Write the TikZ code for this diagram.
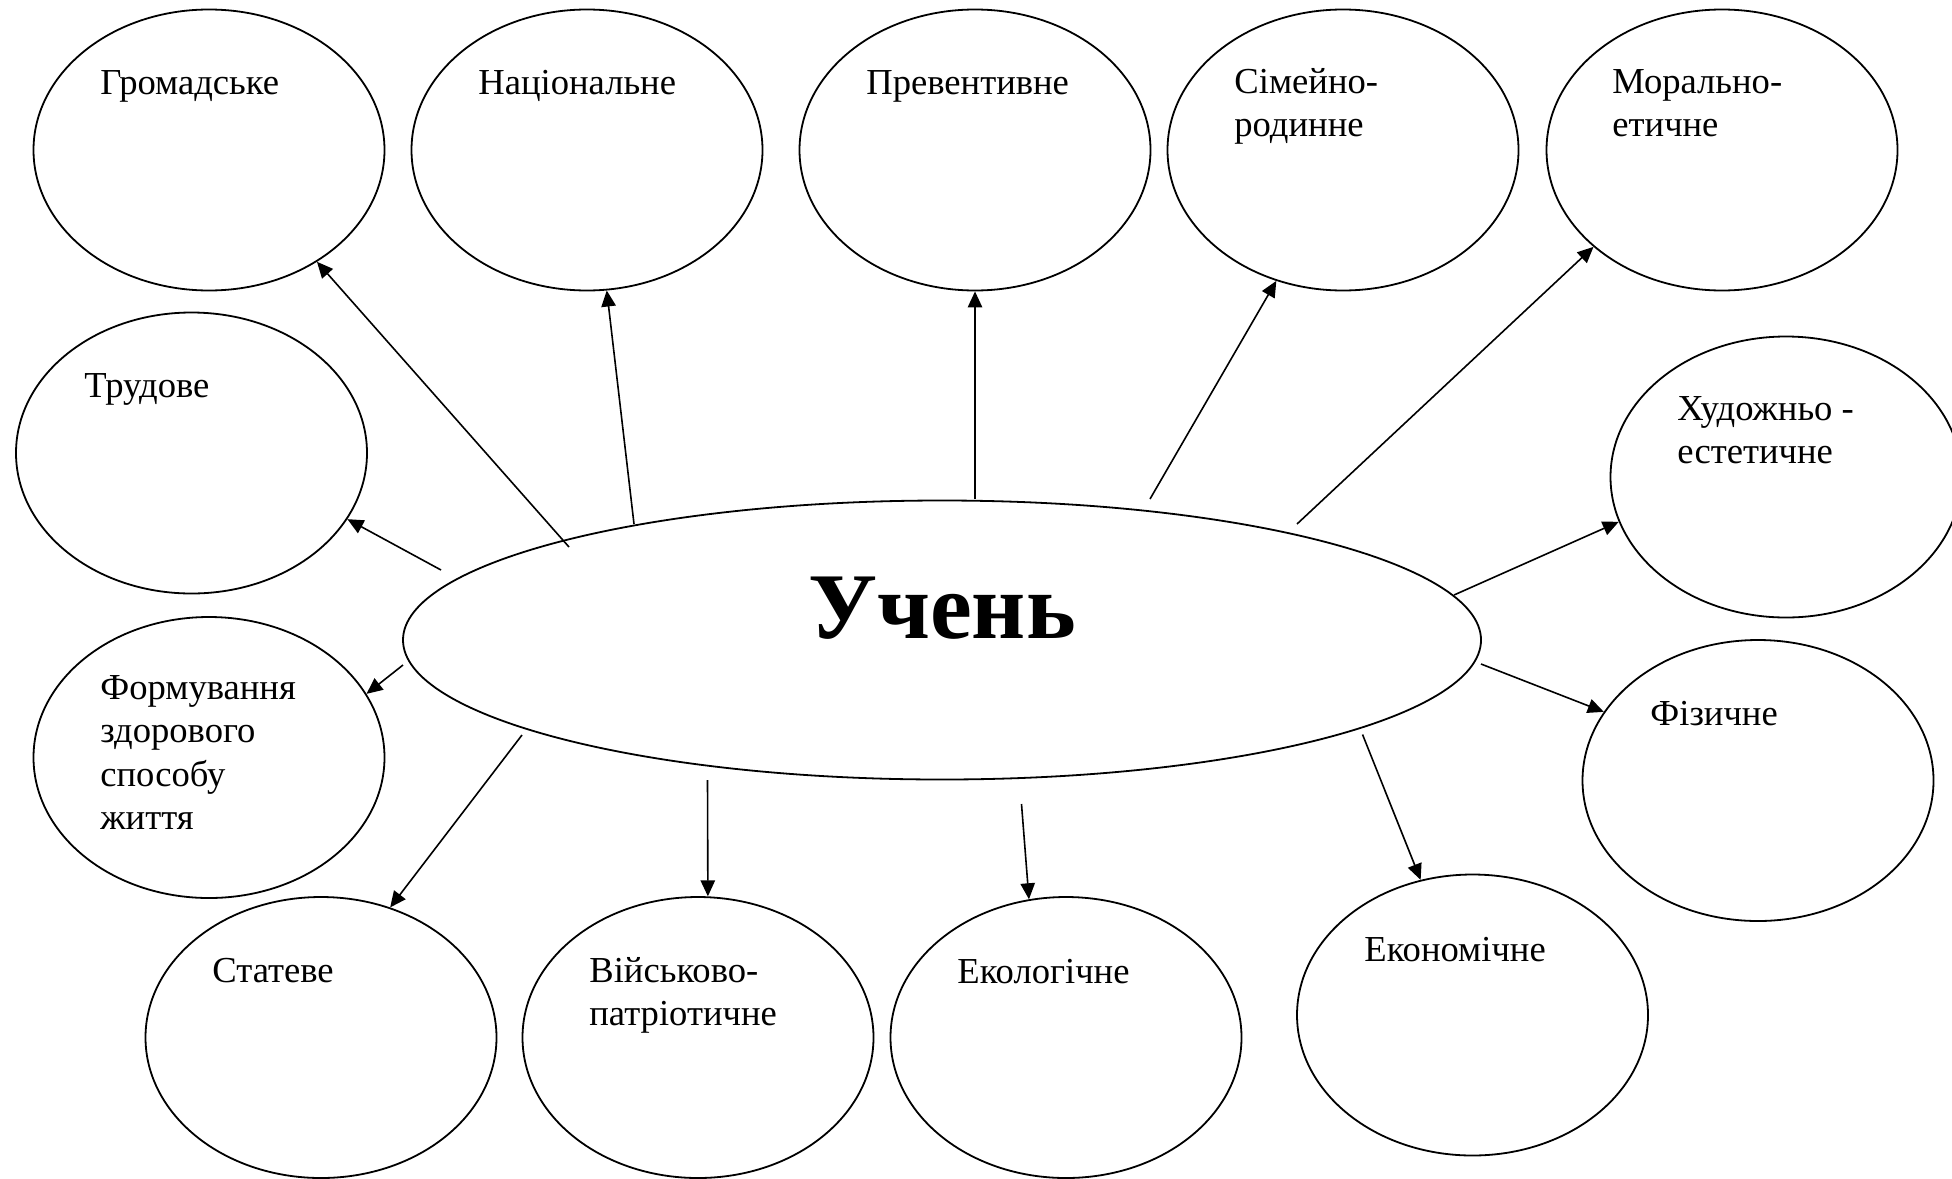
\documentclass[tikz,border=0pt]{standalone}
\usepackage{fontspec}
\setmainfont{Liberation Serif}
\usetikzlibrary{shapes.geometric,arrows.meta}
\begin{document}
\begin{tikzpicture}[x=0.5pt,y=-0.5pt,
  bubble/.style={draw, ellipse, line width=0.9pt, inner sep=0pt, minimum width=175.5pt, minimum height=140.5pt},
  centre/.style={draw, ellipse, line width=0.9pt, inner sep=0pt, minimum width=539pt, minimum height=139.5pt},
  lbl/.style={anchor=base west, inner sep=0pt, font=\fontsize{18.3pt}{21.8pt}\selectfont},
  arr/.style={line width=0.8pt, -{Triangle[length=8pt,width=7.2pt]}}]
\useasboundingbox (0,0) rectangle (1952,1178);

% central node
\node[centre] (uchen) at (942,640) {};
\node[anchor=base, inner sep=0pt, font=\fontsize{47pt}{56pt}\selectfont\bfseries] (tuchen) at (942,638) {Учень};

% outer bubbles
\node[bubble] (gromad) at (209,150) {};
\node[bubble] (nats)   at (587,150) {};
\node[bubble] (prev)   at (975,150) {};
\node[bubble] (simei)  at (1343,150) {};
\node[bubble] (moral)  at (1722,150) {};
\node[bubble] (trud)   at (191.5,453) {};
\node[bubble] (hudozh) at (1786,477) {};
\node[bubble] (formuv) at (209,757.5) {};
\node[bubble] (fiz)    at (1758,780.5) {};
\node[bubble] (stat)   at (321,1037.5) {};
\node[bubble] (viysk)  at (698,1037.5) {};
\node[bubble] (ekol)   at (1066,1037.5) {};
\node[bubble] (ekon)   at (1472.5,1015) {};

% labels
\node[lbl] (tgromad) at (100,94) {Громадське};
\node[lbl] (tnats)   at (478,94) {Національне};
\node[lbl] (tprev)   at (866,94) {Превентивне};
\node[lbl] (tsimei)  at (1234,93) {\begin{tabular}[t]{@{}l@{}}Сімейно-\\родинне\end{tabular}};
\node[lbl] (tmoral)  at (1612,93) {\begin{tabular}[t]{@{}l@{}}Морально-\\етичне\end{tabular}};
\node[lbl] (ttrud)   at (84,397) {Трудове};
\node[lbl] (thudozh) at (1677,420) {\begin{tabular}[t]{@{}l@{}}Художньо -\\естетичне\end{tabular}};
\node[lbl] (tformuv) at (100,699) {\begin{tabular}[t]{@{}l@{}}Формування\\здорового\\способу\\життя\end{tabular}};
\node[lbl] (tfiz)    at (1650,725) {Фізичне};
\node[lbl] (tstat)   at (212,982) {Статеве};
\node[lbl] (tviysk)  at (589,982) {\begin{tabular}[t]{@{}l@{}}Військово-\\патріотичне\end{tabular}};
\node[lbl] (tekol)   at (957,983) {Екологічне};
\node[lbl] (tekon)   at (1364,961) {Економічне};

% arrow start points
\coordinate (s1) at (569,547);
\coordinate (s2) at (634,524);
\coordinate (s3) at (975,499);
\coordinate (s4) at (1150,499);
\coordinate (s5) at (1297,524);
\coordinate (s6) at (441,570);
\coordinate (s7) at (1454,595);
\coordinate (s8) at (403,665);
\coordinate (s9) at (1481,664);
\coordinate (s10) at (522,735);
\coordinate (s11) at (707.5,780);
\coordinate (s12) at (1021.5,804);
\coordinate (s13) at (1362.5,734.5);

% arrows
\draw[arr] (s1) -- (gromad.-46.2);
\draw[arr] (s2) -- (nats.-82.3);
\draw[arr] (s3) -- (prev.-90);
\draw[arr] (s4) -- (simei.-117.5);
\draw[arr] (s5) -- (moral.-143.8);
\draw[arr] (s6) -- (trud.-23.2);
\draw[arr] (s7) -- (hudozh.-165.1);
\draw[arr] (s8) -- (formuv.22.5);
\draw[arr] (s9) -- (fiz.156.6);
\draw[arr] (s10) -- (stat.62.2);
\draw[arr] (s11) -- (viysk.86.1);
\draw[arr] (s12) -- (ekol.105.1);
\draw[arr] (s13) -- (ekon.111.5);
\end{tikzpicture}
\end{document}
